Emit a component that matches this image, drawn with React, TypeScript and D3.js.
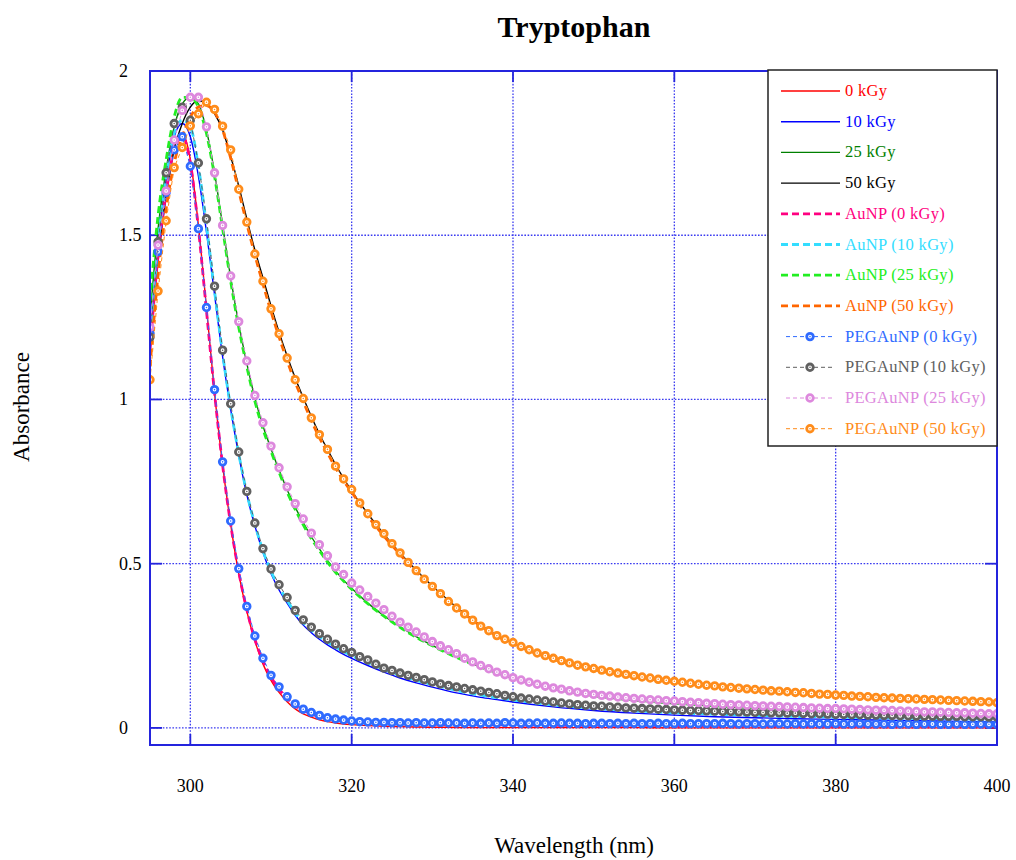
import React from 'react';
import * as d3 from 'd3';

// ---------- data ----------
const WAVELENGTH = [
  295, 296, 297, 298, 299, 300, 301, 302, 303, 304, 305, 306, 307, 308, 309, 310, 311, 312, 313, 314,
  315, 316, 317, 318, 319, 320, 321, 322, 323, 324, 325, 326, 327, 328, 329, 330, 331, 332, 333, 334,
  335, 336, 337, 338, 339, 340, 341, 342, 343, 344, 345, 346, 347, 348, 349, 350, 351, 352, 353, 354,
  355, 356, 357, 358, 359, 360, 361, 362, 363, 364, 365, 366, 367, 368, 369, 370, 371, 372, 373, 374,
  375, 376, 377, 378, 379, 380, 381, 382, 383, 384, 385, 386, 387, 388, 389, 390, 391, 392, 393, 394,
  395, 396, 397, 398, 399, 400,
];

const WL_LINE = [
  295, 296, 297, 298, 299, 300, 301, 302, 303, 304, 305, 306, 307, 308, 309, 310, 311, 312, 313, 314,
  315, 316, 317, 318, 319, 320, 322, 324, 326, 328, 330, 332, 334, 336, 338, 340,
  345, 350, 355, 360, 365, 370, 375, 380, 385, 390, 395, 400,
];

const KGY0 = [
  1.17, 1.45, 1.64, 1.77, 1.81, 1.73, 1.53, 1.28, 1.02, 0.80,
  0.62, 0.47, 0.355, 0.265, 0.195, 0.145, 0.108, 0.080, 0.058, 0.043,
  0.033, 0.025, 0.019, 0.015, 0.012, 0.010,
  0.007, 0.005, 0.004, 0.003, 0.002, 0.002, 0.001, 0.001, 0.001, 0.001,
  0.001, 0.001, 0.001, 0.0, 0.0, 0.0, 0.0, 0.0, 0.0, 0.0, 0.0, 0.0,
];
const KGY10 = [
  1.15, 1.46, 1.67, 1.80, 1.84, 1.80, 1.68, 1.51, 1.32, 1.13,
  0.97, 0.83, 0.71, 0.615, 0.535, 0.47, 0.42, 0.38, 0.343, 0.313,
  0.29, 0.27, 0.253, 0.238, 0.224, 0.212,
  0.19, 0.17, 0.152, 0.137, 0.124, 0.112, 0.102, 0.093, 0.086, 0.079,
  0.064, 0.053, 0.045, 0.039, 0.034, 0.031, 0.028, 0.026, 0.024, 0.022, 0.020, 0.018,
];
const KGY25 = [
  1.25, 1.52, 1.70, 1.83, 1.90, 1.92, 1.90, 1.82, 1.69, 1.53,
  1.37, 1.23, 1.11, 1.005, 0.92, 0.85, 0.785, 0.725, 0.672, 0.625,
  0.582, 0.545, 0.51, 0.478, 0.45, 0.425,
  0.38, 0.342, 0.308, 0.278, 0.251, 0.227, 0.205, 0.185, 0.167, 0.151,
  0.118, 0.097, 0.083, 0.074, 0.066, 0.06, 0.055, 0.051, 0.047, 0.044, 0.041, 0.038,
];
const KGY50 = [
  1.15, 1.42, 1.62, 1.76, 1.84, 1.89, 1.91, 1.90, 1.87, 1.82,
  1.74, 1.65, 1.55, 1.455, 1.37, 1.285, 1.205, 1.132, 1.065, 1.005,
  0.948, 0.895, 0.848, 0.802, 0.76, 0.722,
  0.652, 0.59, 0.533, 0.48, 0.432, 0.388, 0.348, 0.312, 0.282, 0.258,
  0.21, 0.178, 0.156, 0.14, 0.127, 0.116, 0.107, 0.099, 0.092, 0.087, 0.082, 0.077,
];
const AUNP0 = [
  1.15, 1.44, 1.63, 1.76, 1.80, 1.72, 1.52, 1.27, 1.02, 0.80,
  0.62, 0.475, 0.36, 0.27, 0.205, 0.155, 0.118, 0.090, 0.068, 0.053,
  0.043, 0.035, 0.029, 0.024, 0.021, 0.019,
  0.016, 0.014, 0.013, 0.012, 0.011, 0.010, 0.010, 0.009, 0.009, 0.009,
  0.008, 0.008, 0.008, 0.007, 0.007, 0.007, 0.007, 0.006, 0.006, 0.006, 0.006, 0.006,
];
const AUNP10 = [
  1.17, 1.47, 1.68, 1.81, 1.85, 1.83, 1.71, 1.53, 1.33, 1.14,
  0.975, 0.835, 0.715, 0.62, 0.54, 0.477, 0.428, 0.388, 0.35, 0.32,
  0.298, 0.278, 0.261, 0.246, 0.232, 0.22,
  0.198, 0.178, 0.16, 0.145, 0.132, 0.12, 0.109, 0.1, 0.092, 0.085,
  0.07, 0.06, 0.052, 0.046, 0.042, 0.038, 0.035, 0.033, 0.031, 0.029, 0.028, 0.027,
];
const AUNP25 = [
  1.30, 1.56, 1.73, 1.86, 1.92, 1.92, 1.89, 1.81, 1.68, 1.52,
  1.36, 1.22, 1.10, 0.995, 0.91, 0.842, 0.778, 0.718, 0.665, 0.618,
  0.576, 0.54, 0.505, 0.474, 0.447, 0.422,
  0.378, 0.34, 0.306, 0.276, 0.25, 0.226, 0.204, 0.185, 0.168, 0.152,
  0.12, 0.099, 0.085, 0.076, 0.068, 0.062, 0.057, 0.053, 0.049, 0.046, 0.043, 0.04,
];
const AUNP50 = [
  1.10, 1.38, 1.58, 1.72, 1.80, 1.86, 1.89, 1.895, 1.875, 1.82,
  1.735, 1.635, 1.535, 1.44, 1.352, 1.268, 1.19, 1.118, 1.052, 0.994,
  0.936, 0.884, 0.838, 0.792, 0.752, 0.718,
  0.645, 0.584, 0.528, 0.475, 0.428, 0.385, 0.346, 0.31, 0.28, 0.256,
  0.209, 0.178, 0.156, 0.14, 0.127, 0.116, 0.107, 0.1, 0.093, 0.087, 0.082, 0.077,
];

const PEG0 = [
  1.20, 1.45, 1.63, 1.76, 1.80, 1.71, 1.52, 1.28, 1.03, 0.81,
  0.63, 0.485, 0.37, 0.28, 0.212, 0.16, 0.125, 0.095, 0.073, 0.057,
  0.047, 0.038, 0.031, 0.027, 0.024, 0.021, 0.019, 0.018, 0.017, 0.017,
  0.016, 0.016, 0.015, 0.016, 0.015, 0.015, 0.016, 0.015, 0.015, 0.014,
  0.015, 0.014, 0.015, 0.014, 0.016, 0.015, 0.014, 0.014, 0.015, 0.014,
  0.014, 0.015, 0.014, 0.014, 0.013, 0.014, 0.014, 0.013, 0.014, 0.013,
  0.014, 0.013, 0.013, 0.014, 0.013, 0.013, 0.014, 0.013, 0.013, 0.013,
  0.013, 0.014, 0.013, 0.012, 0.013, 0.013, 0.012, 0.013, 0.013, 0.012,
  0.013, 0.012, 0.013, 0.012, 0.012, 0.013, 0.012, 0.012, 0.013, 0.012,
  0.012, 0.012, 0.011, 0.012, 0.012, 0.011, 0.012, 0.012, 0.011, 0.011,
  0.012, 0.011, 0.011, 0.012, 0.011, 0.011,
];
const PEG10 = [
  1.19, 1.48, 1.69, 1.84, 1.89, 1.85, 1.72, 1.55, 1.345, 1.15,
  0.987, 0.84, 0.72, 0.624, 0.546, 0.484, 0.436, 0.397, 0.358, 0.329,
  0.307, 0.287, 0.270, 0.255, 0.241, 0.230, 0.217, 0.207, 0.194, 0.182,
  0.175, 0.167, 0.160, 0.154, 0.147, 0.140, 0.134, 0.129, 0.125, 0.120,
  0.116, 0.112, 0.108, 0.104, 0.099, 0.095, 0.091, 0.088, 0.085, 0.082,
  0.079, 0.076, 0.073, 0.071, 0.069, 0.067, 0.066, 0.064, 0.063, 0.061,
  0.060, 0.059, 0.058, 0.057, 0.056, 0.055, 0.054, 0.053, 0.053, 0.052,
  0.051, 0.050, 0.050, 0.049, 0.048, 0.047, 0.047, 0.046, 0.046, 0.045,
  0.045, 0.044, 0.043, 0.043, 0.042, 0.041, 0.041, 0.040, 0.040, 0.039,
  0.039, 0.038, 0.038, 0.037, 0.037, 0.036, 0.036, 0.036, 0.035, 0.035,
  0.035, 0.034, 0.034, 0.034, 0.033, 0.033,
];
const PEG25 = [
  1.22, 1.47, 1.635, 1.79, 1.88, 1.92, 1.92, 1.83, 1.69, 1.53,
  1.376, 1.237, 1.117, 1.012, 0.929, 0.858, 0.792, 0.734, 0.683, 0.636,
  0.593, 0.558, 0.524, 0.490, 0.467, 0.441, 0.420, 0.400, 0.380, 0.360,
  0.340, 0.322, 0.307, 0.292, 0.277, 0.263, 0.250, 0.238, 0.226, 0.212,
  0.201, 0.190, 0.180, 0.170, 0.162, 0.153, 0.146, 0.139, 0.133, 0.127,
  0.122, 0.118, 0.113, 0.109, 0.105, 0.102, 0.099, 0.097, 0.094, 0.092,
  0.090, 0.088, 0.086, 0.085, 0.083, 0.082, 0.080, 0.078, 0.077, 0.075,
  0.074, 0.072, 0.071, 0.070, 0.069, 0.068, 0.067, 0.066, 0.065, 0.064,
  0.063, 0.062, 0.061, 0.060, 0.059, 0.059, 0.058, 0.057, 0.056, 0.055,
  0.054, 0.054, 0.053, 0.052, 0.051, 0.050, 0.049, 0.049, 0.048, 0.047,
  0.046, 0.046, 0.045, 0.044, 0.043, 0.043,
];
const PEG50 = [
  1.06, 1.33, 1.544, 1.706, 1.767, 1.833, 1.87, 1.905, 1.883, 1.832,
  1.76, 1.64, 1.54, 1.443, 1.36, 1.276, 1.20, 1.126, 1.06, 1.003,
  0.944, 0.893, 0.848, 0.797, 0.758, 0.726, 0.685, 0.652, 0.619, 0.591,
  0.561, 0.533, 0.504, 0.479, 0.453, 0.431, 0.409, 0.385, 0.365, 0.347,
  0.328, 0.310, 0.296, 0.281, 0.270, 0.260, 0.248, 0.238, 0.228, 0.220,
  0.212, 0.205, 0.198, 0.191, 0.186, 0.181, 0.176, 0.171, 0.167, 0.163,
  0.159, 0.155, 0.152, 0.148, 0.145, 0.142, 0.139, 0.136, 0.133, 0.130,
  0.128, 0.125, 0.123, 0.121, 0.119, 0.117, 0.115, 0.113, 0.112, 0.110,
  0.108, 0.107, 0.105, 0.103, 0.102, 0.100, 0.099, 0.097, 0.096, 0.095,
  0.093, 0.092, 0.091, 0.090, 0.089, 0.088, 0.087, 0.086, 0.085, 0.084,
  0.083, 0.082, 0.081, 0.080, 0.079, 0.077,
];

const X_TICKS = [300, 320, 340, 360, 380, 400];
const Y_TICKS = [0, 0.5, 1, 1.5, 2];
const Y_TICK_LABELS = ['0', '0.5', '1', '1.5', '2'];

type Kind = 'solid' | 'dash' | 'marker';
interface Series { name: string; color: string; kind: Kind; xs: number[]; ys: number[]; }

const SERIES: Series[] = [
  { name: '0 kGy', color: '#ff0000', kind: 'solid', xs: WL_LINE, ys: KGY0 },
  { name: '10 kGy', color: '#0000ff', kind: 'solid', xs: WL_LINE, ys: KGY10 },
  { name: '25 kGy', color: '#008000', kind: 'solid', xs: WL_LINE, ys: KGY25 },
  { name: '50 kGy', color: '#000000', kind: 'solid', xs: WL_LINE, ys: KGY50 },
  { name: 'AuNP (0 kGy)', color: '#ff0080', kind: 'dash', xs: WL_LINE, ys: AUNP0 },
  { name: 'AuNP (10 kGy)', color: '#33ddff', kind: 'dash', xs: WL_LINE, ys: AUNP10 },
  { name: 'AuNP (25 kGy)', color: '#22ee22', kind: 'dash', xs: WL_LINE, ys: AUNP25 },
  { name: 'AuNP (50 kGy)', color: '#ff6600', kind: 'dash', xs: WL_LINE, ys: AUNP50 },
  { name: 'PEGAuNP (0 kGy)', color: '#2f6bff', kind: 'marker', xs: WAVELENGTH, ys: PEG0 },
  { name: 'PEGAuNP (10 kGy)', color: '#606060', kind: 'marker', xs: WAVELENGTH, ys: PEG10 },
  { name: 'PEGAuNP (25 kGy)', color: '#dd88dd', kind: 'marker', xs: WAVELENGTH, ys: PEG25 },
  { name: 'PEGAuNP (50 kGy)', color: '#ff8c1a', kind: 'marker', xs: WAVELENGTH, ys: PEG50 },
];

// ---------- layout ----------
const W = 1016;
const H = 860;
const L = 150, R = 997, T = 71, B = 745;
const x = d3.scaleLinear().domain([295, 400]).range([L, R]);
const y = d3.scaleLinear().domain([-0.052, 2]).range([B, T]);
const AXIS = '#2424dd';
const GRID = '#3a3af0';
const FONT = '"Liberation Serif", "Times New Roman", serif';

function pathFor(s: Series): string {
  const pts = s.xs.map((w, i) => [w, s.ys[i]] as [number, number]);
  const gen = d3.line<[number, number]>()
    .x((d) => x(d[0]))
    .y((d) => y(d[1]))
    .curve(s.kind === 'marker' ? d3.curveLinear : d3.curveMonotoneX);
  return gen(pts) || '';
}

function Marker({ cx, cy, color }: { cx: number; cy: number; color: string }) {
  return (
    <g>
      <circle cx={cx} cy={cy} r={3.3} fill="#ffffff" stroke={color} strokeWidth={2.8} />
      <circle cx={cx} cy={cy} r={0.8} fill={color} />
    </g>
  );
}

export default function App() {
  const solids = SERIES.filter((s) => s.kind === 'solid');
  const dashes = SERIES.filter((s) => s.kind === 'dash');
  const markers = SERIES.filter((s) => s.kind === 'marker');

  const legX = 768, legY = 70, legW = 229, legH = 376, legStep = 30.7, legFirst = 91;

  return (
    <svg width={W} height={H} style={{ position: 'absolute', left: 0, top: 0, background: '#fff' }}
      fontFamily={FONT}>
      <defs>
        <clipPath id="plot">
          <rect x={L} y={T} width={R - L} height={B - T} />
        </clipPath>
      </defs>
      <rect x={0} y={0} width={W} height={H} fill="#ffffff" />

      {/* title */}
      <text x={574} y={37} textAnchor="middle" fontSize={30} fontWeight="bold" fill="#000">Tryptophan</text>

      {/* grid */}
      {X_TICKS.map((t) => (
        <line key={'gx' + t} x1={x(t)} x2={x(t)} y1={T} y2={B} stroke={GRID} strokeWidth={1.3}
          strokeDasharray="1.6,1.6" />
      ))}
      {Y_TICKS.map((t) => (
        <line key={'gy' + t} x1={L} x2={R} y1={y(t)} y2={y(t)} stroke={GRID} strokeWidth={1.3}
          strokeDasharray="1.6,1.6" />
      ))}

      {/* ticks */}
      {X_TICKS.map((t) => (
        <g key={'tx' + t}>
          <line x1={x(t)} x2={x(t)} y1={B} y2={B - 11} stroke={AXIS} strokeWidth={1.8} />
          <line x1={x(t)} x2={x(t)} y1={T} y2={T + 11} stroke={AXIS} strokeWidth={1.8} />
          <text x={x(t)} y={792} textAnchor="middle" fontSize={18} fill="#000">{t}</text>
        </g>
      ))}
      {Y_TICKS.map((t, i) => (
        <g key={'ty' + t}>
          <line x1={L} x2={L + 12} y1={y(t)} y2={y(t)} stroke={AXIS} strokeWidth={1.8} />
          <line x1={R} x2={R - 12} y1={y(t)} y2={y(t)} stroke={AXIS} strokeWidth={1.8} />
          <text x={119} y={y(t) + 6} textAnchor="start" fontSize={18} fill="#000">{Y_TICK_LABELS[i]}</text>
        </g>
      ))}

      {/* curves */}
      <g clipPath="url(#plot)">
        {solids.map((s) => (
          <path key={s.name} d={pathFor(s)} fill="none" stroke={s.color} strokeWidth={1.4} />
        ))}
        {dashes.map((s) => (
          <path key={s.name} d={pathFor(s)} fill="none" stroke={s.color} strokeWidth={2.8}
            strokeDasharray="7,4" />
        ))}
        {markers.map((s) => (
          <g key={s.name}>
            <path d={pathFor(s)} fill="none" stroke={s.color} strokeWidth={1} strokeDasharray="4,3" />
            {s.xs.map((w, i) => (
              <Marker key={w} cx={x(w)} cy={y(s.ys[i])} color={s.color} />
            ))}
          </g>
        ))}
      </g>

      {/* frame */}
      <rect x={L} y={T} width={R - L} height={B - T} fill="none" stroke={AXIS} strokeWidth={2} />

      {/* axis labels */}
      <text x={574} y={853} textAnchor="middle" fontSize={23} fill="#000">Wavelength (nm)</text>
      <text transform="translate(29,407) rotate(-90)" textAnchor="middle" fontSize={23} fill="#000">Absorbance</text>

      {/* legend */}
      <rect x={legX} y={legY} width={legW} height={legH} fill="#ffffff" stroke="#222" strokeWidth={1.5} />
      {SERIES.map((s, i) => {
        const cy = legFirst + i * legStep;
        return (
          <g key={'lg' + s.name}>
            {s.kind === 'solid' && (
              <line x1={781} x2={840} y1={cy} y2={cy} stroke={s.color} strokeWidth={1.4} />
            )}
            {s.kind === 'dash' && (
              <line x1={781} x2={840} y1={cy} y2={cy} stroke={s.color} strokeWidth={2.8} strokeDasharray="7,4" />
            )}
            {s.kind === 'marker' && (
              <g>
                <line x1={786} x2={835} y1={cy} y2={cy} stroke={s.color} strokeWidth={1} strokeDasharray="4,3" />
                <Marker cx={810} cy={cy} color={s.color} />
              </g>
            )}
            <text x={845} y={cy + 5} fontSize={16.5} letterSpacing={0.3} fill={s.color}>{s.name}</text>
          </g>
        );
      })}
    </svg>
  );
}
